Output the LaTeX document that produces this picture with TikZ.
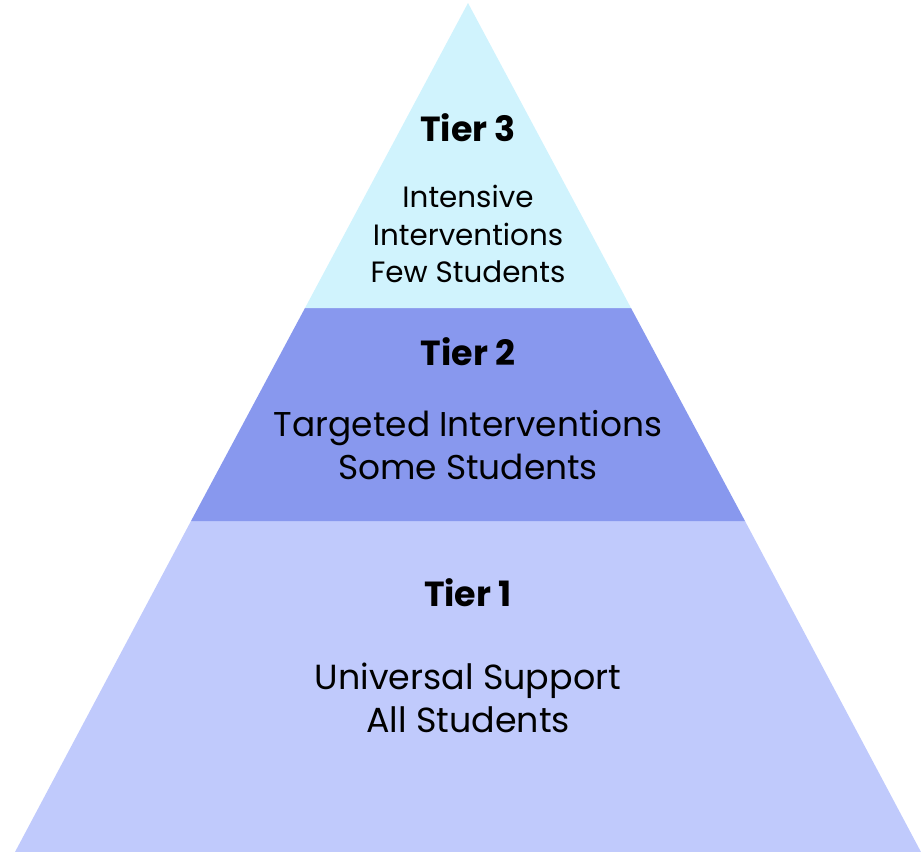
\documentclass[tikz,border=0pt]{standalone}
\usepackage{fontspec}
\setmainfont{Poppins}
\definecolor{tierthree}{RGB}{208,243,253}
\definecolor{tiertwo}{RGB}{136,152,238}
\definecolor{tierone}{RGB}{192,202,252}
\begin{document}
\begin{tikzpicture}[x=1bp,y=-1bp,
  title/.style={font=\fontsize{35}{40}\selectfont\bfseries},
  body/.style={align=center}]
\useasboundingbox (0,0) rectangle (921,852);
% corners of the bands
\coordinate (apex) at (468,3);
\coordinate (tl3) at (305,308);
\coordinate (tr3) at (631,308);
\coordinate (tl2) at (191,521);
\coordinate (tr2) at (745,521);
\coordinate (bl) at (15,852);
\coordinate (br) at (921,852);
\fill[tierone] (bl) -- (br) -- (tr2) -- (tl2) -- cycle;
\fill[tiertwo] (tl2) -- (tr2) -- (tr3) -- (tl3) -- cycle;
\fill[tierthree] (tl3) -- (tr3) -- (apex) -- cycle;
% labels
\node[title] (t3) at (468,128) {Tier 3};
\node[body, font=\fontsize{29.5}{38}\selectfont] (b3) at (468,234) {Intensive\\Interventions\\Few Students};
\node[title] (t2) at (468,352) {Tier 2};
\node[body, font=\fontsize{34.5}{44}\selectfont] (b2) at (468,445) {Targeted Interventions\\Some Students};
\node[title] (t1) at (468,593) {Tier 1};
\node[body, font=\fontsize{35}{43}\selectfont] (b1) at (468,698) {Universal Support\\All Students};
\end{tikzpicture}
\end{document}
